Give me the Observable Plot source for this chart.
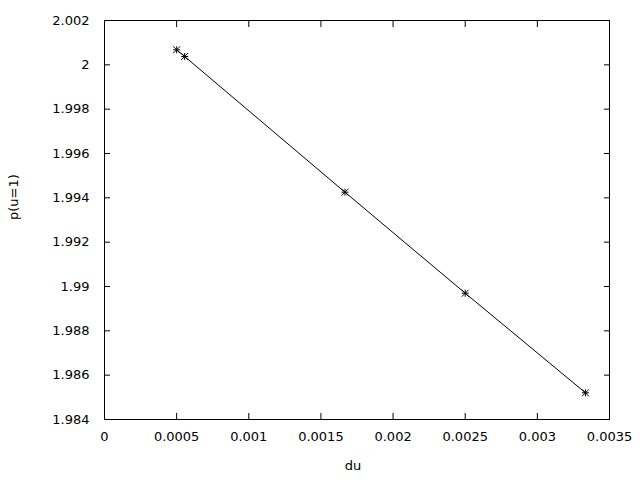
<!DOCTYPE html>
<html>
<head>
<meta charset="utf-8">
<script src="https://cdn.jsdelivr.net/npm/d3@7"></script>
<script src="https://cdn.jsdelivr.net/npm/@observablehq/plot@0.6"></script>
<style>
  html, body { margin: 0; padding: 0; background: #fff; }
  svg { display: block; }
</style>
</head>
<body>
<div id="chart"></div>
<script>
const du = [0.0005, 0.0005556, 0.0016667, 0.0025, 0.0033333];
const pu = [2.000678, 2.000376, 1.994254, 1.989698, 1.985205];
const xTicks = [0, 0.0005, 0.001, 0.0015, 0.002, 0.0025, 0.003, 0.0035];
const yTicks = [1.984, 1.986, 1.988, 1.99, 1.992, 1.994, 1.996, 1.998, 2, 2.002];
const xLabel = "du";
const yLabel = "p(u=1)";

const data = du.map((x, i) => ({x, y: pu[i]}));

const asterisk = {
  draw(ctx, size) {
    const r = Math.sqrt(size / Math.PI);
    ctx.moveTo(-r, 0); ctx.lineTo(r, 0);
    ctx.moveTo(0, -r); ctx.lineTo(0, r);
    ctx.moveTo(-r, -r); ctx.lineTo(r, r);
    ctx.moveTo(-r, r); ctx.lineTo(r, -r);
  }
};

const fmt = d => String(+d.toPrecision(6));
const none = () => "";

const chart = Plot.plot({
  width: 640,
  height: 480,
  marginLeft: 104,
  marginRight: 31,
  marginTop: 20,
  marginBottom: 61,
  style: {fontFamily: "DejaVu Sans", fontSize: "13px", color: "#000", background: "#fff"},
  x: {domain: [0, 0.0035]},
  y: {domain: [1.984, 2.002]},
  marks: [
    Plot.frame({stroke: "#000", strokeWidth: 1}),
    Plot.axisX(xTicks, {anchor: "bottom", tickSize: -6, tickPadding: 18, tickFormat: fmt, label: null, stroke: "#000"}),
    Plot.axisX(xTicks, {anchor: "top", tickSize: -6, tickFormat: none, label: null, stroke: "#000"}),
    Plot.axisY(yTicks, {anchor: "left", tickSize: -6, tickPadding: 21, tickFormat: fmt, label: null, stroke: "#000"}),
    Plot.axisY(yTicks, {anchor: "right", tickSize: -6, tickFormat: none, label: null, stroke: "#000"}),
    Plot.line(data, {x: "x", y: "y", stroke: "#000", strokeWidth: 1}),
    Plot.dot(data, {x: "x", y: "y", symbol: asterisk, r: 3.5, stroke: "#000", strokeWidth: 1}),
    Plot.text([xLabel], {frameAnchor: "bottom", dy: 50, dx: -4, fill: "#000"}),
    Plot.text([yLabel], {frameAnchor: "left", dx: -91, rotate: -90, fill: "#000"})
  ]
});
document.getElementById("chart").appendChild(chart);
</script>
</body>
</html>
